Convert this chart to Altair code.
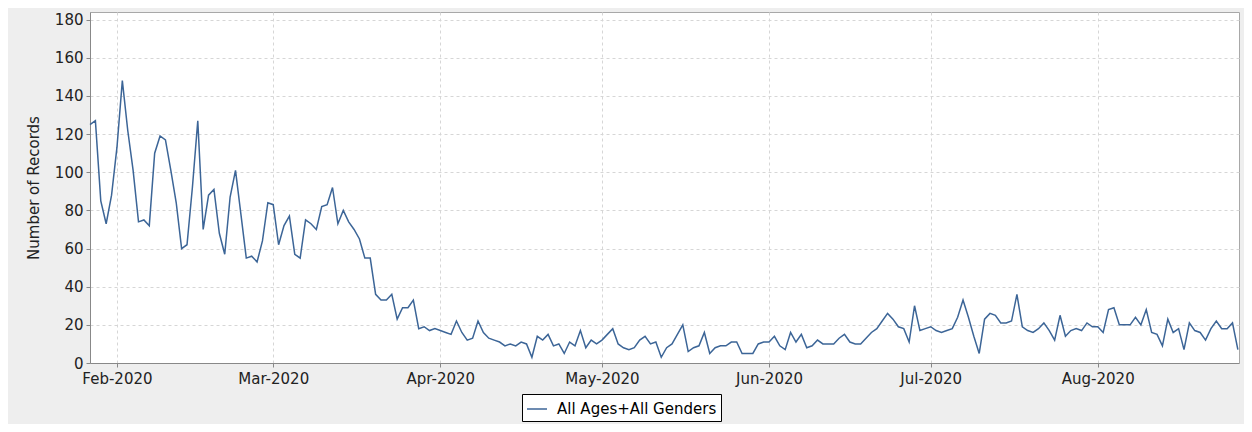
import altair as alt
import pandas as pd

start_date = "2020-01-27"
series_name = "All Ages+All Genders"

records = [
    125, 127, 85, 73, 88, 113, 148, 122, 101, 74,
    75, 72, 110, 119, 117, 101, 84, 60, 62, 92,
    127, 70, 88, 91, 68, 57, 87, 101, 78, 55,
    56, 53, 64, 84, 83, 62, 72, 77, 57, 55,
    75, 73, 70, 82, 83, 92, 73, 80, 74, 70,
    65, 55, 55, 36, 33, 33, 36, 23, 29, 29,
    33, 18, 19, 17, 18, 17, 16, 15, 22, 16,
    12, 13, 22, 16, 13, 12, 11, 9, 10, 9,
    11, 10, 3, 14, 12, 15, 9, 10, 5, 11,
    9, 17, 8, 12, 10, 12, 15, 18, 10, 8,
    7, 8, 12, 14, 10, 11, 3, 8, 10, 15,
    20, 6, 8, 9, 16, 5, 8, 9, 9, 11,
    11, 5, 5, 5, 10, 11, 11, 14, 9, 7,
    16, 11, 15, 8, 9, 12, 10, 10, 10, 13,
    15, 11, 10, 10, 13, 16, 18, 22, 26, 23,
    19, 18, 11, 30, 17, 18, 19, 17, 16, 17,
    18, 24, 33, 24, 14, 5, 23, 26, 25, 21,
    21, 22, 36, 19, 17, 16, 18, 21, 17, 12,
    25, 14, 17, 18, 17, 21, 19, 19, 16, 28,
    29, 20, 20, 20, 24, 20, 28, 16, 15, 9,
    23, 16, 18, 7, 21, 17, 16, 12, 18, 22,
    18, 18, 21, 7,
]

month_ticks = [(2020, m) for m in range(2, 9)]
y_ticks = list(range(0, 181, 20))

line_color = "#3c6597"
font = "DejaVu Sans"

dates = pd.date_range(start_date, periods=len(records), freq="D").strftime("%Y-%m-%d")
df = pd.DataFrame({"date": list(dates), "records": records, "series": series_name})

x_domain = [
    {"year": 2020, "month": 1, "date": 27, "utc": True},
    {"year": 2020, "month": 8, "date": 27, "hours": 5, "utc": True},
]
x_values = [{"year": y, "month": m, "date": 1, "utc": True} for (y, m) in month_ticks]

chart = (
    alt.Chart(df)
    .mark_line(strokeWidth=1.5)
    .encode(
        x=alt.X(
            "date:T",
            scale=alt.Scale(type="utc", domain=x_domain),
            axis=alt.Axis(values=x_values, format="%b-%Y", title=None, labelFlush=False,
                          labelPadding=4),
        ),
        y=alt.Y(
            "records:Q",
            scale=alt.Scale(domain=[0, 184], nice=False, zero=True),
            axis=alt.Axis(values=y_ticks, title="Number of Records", titlePadding=13,
                          labelPadding=3),
        ),
        color=alt.Color(
            "series:N",
            scale=alt.Scale(range=[line_color]),
            legend=alt.Legend(
                title=None,
                orient="none",
                legendX=432,
                legendY=382,
                symbolType="stroke",
                symbolSize=400,
                symbolStrokeWidth=1.5,
                labelFont=font,
                labelFontSize=15,
                labelColor="#000000",
                fillColor="white",
                strokeColor="black",
                padding=4,
                labelOffset=9,
                cornerRadius=0,
            ),
        ),
    )
    .properties(
        width=1149,
        height=351,
        autosize=alt.AutoSizeParams(type="none"),
        padding={"left": 82, "top": 4, "right": 5, "bottom": 61},
        background="#eeeeee",
    )
    .configure_view(stroke="#a8a8a8", fill="white")
    .configure_axis(
        labelFont=font,
        labelFontSize=15,
        labelColor="#222222",
        titleFont=font,
        titleFontSize=15,
        titleFontWeight="normal",
        titleColor="#222222",
        grid=True,
        gridDash=[3, 3],
        gridColor="#d6d6d6",
        gridWidth=1,
        domainColor="#888888",
        tickColor="#888888",
        tickSize=4,
    )
)

chart.save("out.html", embed_options={"renderer": "svg", "actions": False})
